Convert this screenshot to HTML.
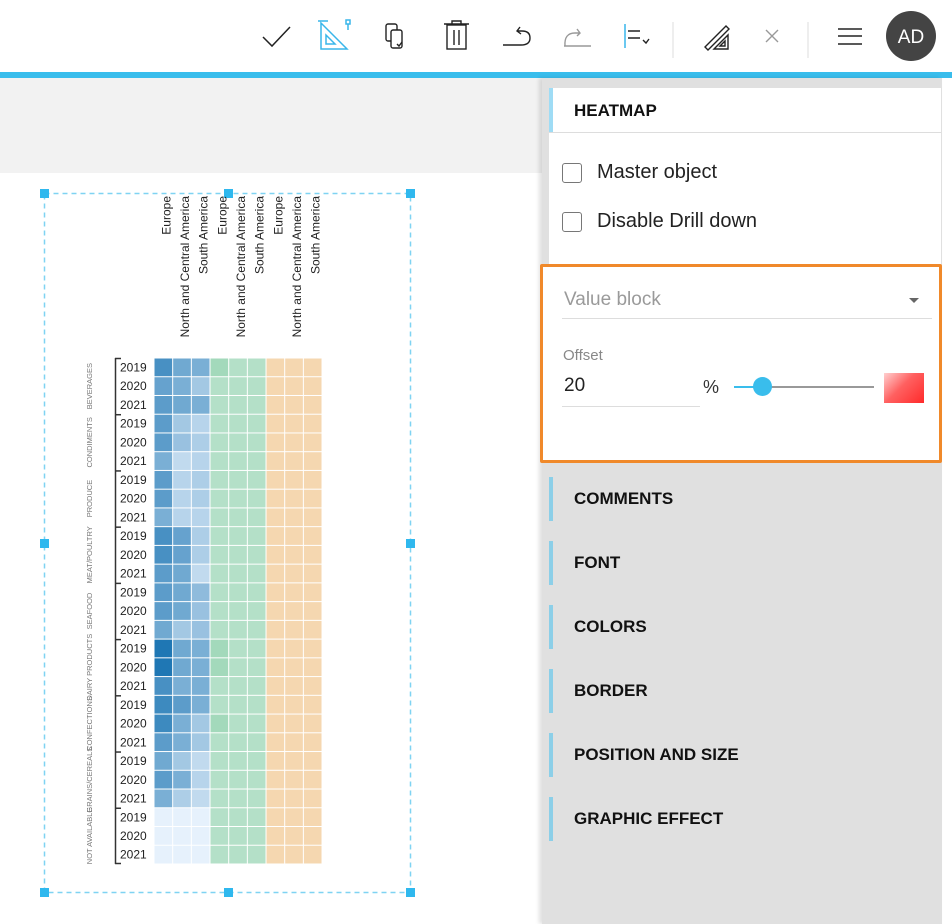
<!DOCTYPE html>
<html><head><meta charset="utf-8">
<style>
*{margin:0;padding:0;box-sizing:border-box}
body{width:952px;height:924px;overflow:hidden;background:#fff;font-family:"Liberation Sans",sans-serif;position:relative}
.abs{position:absolute}
.sec{position:absolute;left:549px;width:392px;height:44px}
.sec .bar{position:absolute;left:0;top:0;width:4px;height:44px;background:#8ccfe8}
.sec span{position:absolute;left:25px;top:12px;font-weight:bold;font-size:17px;color:#111}
.cb{position:absolute;left:562px;width:20px;height:20px;border:1.5px solid #777;border-radius:3px;background:#fff}
.lbl{position:absolute;left:597px;font-size:20px;color:#222}
</style></head><body>
<svg class="abs" style="left:0;top:0" width="952" height="78">
<g fill="none" stroke="#222" stroke-width="1.5">
<path d="M263 37 L272 46 L290 27"/>
</g>
<g fill="none" stroke="#39b6ea" stroke-width="1.5">
<path d="M321 23 L321 49 L347 49 Z"/><path d="M326 35 L326 44 L335 44 Z"/>
<path d="M328 21 L318 21 M348 21 L348 30"/><rect x="346" y="20" width="4" height="4" fill="#fff"/>
</g>
<g fill="none" stroke="#222" stroke-width="1.4">
<rect x="386" y="24" width="11" height="17" rx="2"/><rect x="391" y="30" width="11" height="18" rx="2" fill="#fff"/><path d="M397 44 l2 2 l3 -4"/>
<path d="M444 24 L469 24 M452 24 L452 21 L461 21 L461 24"/><rect x="447" y="25" width="19" height="24"/><path d="M454 30 L454 45 M459 30 L459 45"/>
<path d="M503 45 L521 45 Q530 45 530 38 Q530 31 522 31 L517 31 M520 27 L517 31 L521 34"/>
</g>
<g fill="none" stroke="#999" stroke-width="1.4">
<path d="M591 46 L564 46 M565 46 Q564 33 575 33 L580 33 M577 29 L580 33 L577 36"/>
<path d="M766 30 L778 42 M778 30 L766 42"/>
</g>
<path d="M625 24 L625 48" stroke="#39b6ea" stroke-width="1.5"/>
<g fill="none" stroke="#222" stroke-width="1.4"><path d="M628 31 L640 31 M628 38 L640 38 M643 40 l3 3 l3 -4"/>
<path d="M705 47 L726 26 L729 29 L708 50 Z"/><path d="M714 49 L728 35 L728 49 Z"/><path d="M720 46 L725 41 L725 46 Z"/>
<path d="M838 29 L862 29 M838 36 L862 36 M838 44 L862 44"/></g>
<path d="M673 22 L673 58 M808 22 L808 58" stroke="#ddd" stroke-width="1"/>
<circle cx="911" cy="36" r="25" fill="#444"/>
<text x="911" y="43" fill="#fff" font-size="19" text-anchor="middle" font-family="Liberation Sans">AD</text>
<rect x="0" y="72" width="952" height="6" fill="#39bdec"/>
</svg>
<div class="abs" style="left:0;top:78px;width:542px;height:95px;background:#f2f2f2"></div>
<div class="abs" style="left:542px;top:78px;width:400px;height:846px;background:#e0e0e0;box-shadow:-3px 0 4px rgba(0,0,0,0.12)"></div>
<div class="abs" style="left:549px;top:88px;width:392px;height:180px;background:#fff"></div>
<div class="abs" style="left:549px;top:88px;width:4px;height:44px;background:#9fdcf5"></div>
<div class="abs" style="left:549px;top:132px;width:392px;height:1px;background:#ddd"></div>
<div class="abs" style="left:574px;top:101px;font-weight:bold;font-size:17px;color:#111">HEATMAP</div>
<div class="cb" style="top:163px"></div><div class="lbl" style="top:161px">Master object</div>
<div class="cb" style="top:212px"></div><div class="lbl" style="top:210px">Disable Drill down</div>
<div class="abs" style="left:540px;top:264px;width:402px;height:199px;border:3px solid #f0892a;background:#fff;border-radius:2px"></div>
<div class="abs" style="left:564px;top:289px;font-size:19px;color:#9a9a9a">Value block</div>
<div class="abs" style="left:909px;top:298px;width:0;height:0;border-left:5px solid transparent;border-right:5px solid transparent;border-top:5px solid #666"></div>
<div class="abs" style="left:562px;top:318px;width:370px;height:1px;background:#ddd"></div>
<div class="abs" style="left:563px;top:347px;font-size:15px;color:#888">Offset</div>
<div class="abs" style="left:564px;top:375px;font-size:19px;color:#222">20</div>
<div class="abs" style="left:562px;top:406px;width:138px;height:1px;background:#ddd"></div>
<div class="abs" style="left:703px;top:377px;font-size:18px;color:#333">%</div>
<div class="abs" style="left:734px;top:386px;width:140px;height:2px;background:#999"></div>
<div class="abs" style="left:734px;top:386px;width:28px;height:2px;background:#39bdec"></div>
<div class="abs" style="left:753px;top:377px;width:19px;height:19px;border-radius:50%;background:#39bdec"></div>
<div class="abs" style="left:884px;top:373px;width:40px;height:30px;background:linear-gradient(135deg,#ffd0d0 0%,#ff6060 45%,#ff2a2a 100%)"></div>
<div class="sec" style="top:477px"><div class="bar"></div><span>COMMENTS</span></div>
<div class="sec" style="top:541px"><div class="bar"></div><span>FONT</span></div>
<div class="sec" style="top:605px"><div class="bar"></div><span>COLORS</span></div>
<div class="sec" style="top:669px"><div class="bar"></div><span>BORDER</span></div>
<div class="sec" style="top:733px"><div class="bar"></div><span>POSITION AND SIZE</span></div>
<div class="sec" style="top:797px"><div class="bar"></div><span>GRAPHIC EFFECT</span></div>
<svg id="hm" class="abs" style="left:0;top:0" width="540" height="924" font-family="Liberation Sans"></svg>
<script>
var s=document.getElementById('hm'),h='';
h+='<rect x="44.5" y="193.5" width="366" height="699" fill="none" stroke="#7fd3f2" stroke-width="1.5" stroke-dasharray="5,4"/>';
[[44,193],[228,193],[410,193],[44,543],[410,543],[44,892],[228,892],[410,892]].forEach(function(p){h+='<rect x="'+(p[0]-4)+'" y="'+(p[1]-4)+'" width="9" height="9" fill="#2fb8ee"/>';});
var names=["Europe","North and Central America","South America"];
var x0=154,cw=18.67,y0=358,rh=18.74;
for(var c=0;c<9;c++){var cx=x0+c*cw+cw/2+7;h+='<text transform="translate('+cx+',196) rotate(-90)" text-anchor="end" font-size="12" fill="#222">'+names[c%3]+'</text>';}
var v=[[.8,.6,.55],[.65,.55,.35],[.7,.6,.55],[.7,.35,.25],[.7,.4,.3],[.55,.2,.25],[.7,.25,.3],[.7,.25,.3],[.55,.25,.25],[.8,.65,.3],[.8,.65,.3],[.7,.6,.2],[.7,.6,.45],[.7,.6,.4],[.6,.35,.4],[1,.6,.55],[1,.6,.55],[.8,.55,.55],[.85,.7,.55],[.85,.55,.35],[.7,.55,.35],[.6,.35,.2],[.7,.55,.25],[.55,.3,.2],[.02,.02,.02],[.02,.02,.02],[.02,.02,.02]];
function bl(t){var a=[234,243,253],b=[31,119,180];return 'rgb('+a.map(function(q,i){return Math.round(q+(b[i]-q)*t)}).join(',')+')';}
var dg={0:1,1:0,15:1,16:1,19:1};
for(var r=0;r<27;r++){var y=y0+r*rh;
 for(var c=0;c<9;c++){var f;if(c<3)f=bl(v[r][c]);else if(c<6)f=(c==3&&dg[r])?'#a3d9bb':'#b4e0c8';else f='#f5d7b0';
 h+='<rect x="'+(x0+c*cw+0.5)+'" y="'+(y+0.5)+'" width="'+(cw-1)+'" height="'+(rh-1)+'" fill="'+f+'"/>';}
 h+='<text x="120" y="'+(y+13.5)+'" font-size="12" fill="#222">'+(2019+r%3)+'</text>';}
var cats=["BEVERAGES","CONDIMENTS","PRODUCE","MEAT/POULTRY","SEAFOOD","DAIRY PRODUCTS","CONFECTIONS","GRAINS/CEREALS","NOT AVAILABLE"];
h+='<path d="M115.5 358 L115.5 864" stroke="#333" stroke-width="1.5"/>';
for(var g=0;g<9;g++){var yt=y0+g*3*rh,yc=yt+1.5*rh;
 h+='<path d="M115 '+(yt+0.5)+' L121 '+(yt+0.5)+'" stroke="#333" stroke-width="1.5"/>';
 h+='<text transform="translate(92,'+yc+') rotate(-90)" text-anchor="middle" font-size="7.5" fill="#777">'+cats[g]+'</text>';}
h+='<path d="M115 863.5 L121 863.5" stroke="#333" stroke-width="1.5"/>';
s.innerHTML=h;
</script>
</body></html>
